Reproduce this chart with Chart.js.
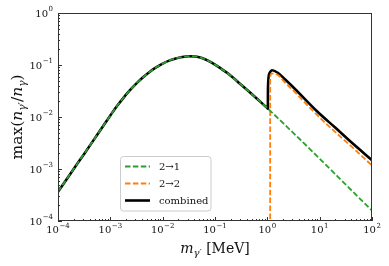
<!DOCTYPE html>
<html>
<head>
<meta charset="utf-8">
<script src="https://cdn.jsdelivr.net/npm/chart.js@4.4.0/dist/chart.umd.min.js"></script>
<style>
body { margin: 0; background: #fff; }
#wrap { width: 389px; height: 266px; }
</style>
</head>
<body>
<div id="wrap"><canvas id="myChart"></canvas></div>
<script>
// masses in MeV
var greenMass = [1e-4, 1.78e-4, 3.16e-4, 5.62e-4, 1e-3, 1.33e-3, 1.78e-3, 2.37e-3, 3.16e-3, 4.22e-3, 5.62e-3,
    7.5e-3, 1e-2, 1.33e-2, 1.78e-2, 2.37e-2, 3.16e-2, 4.22e-2, 5.62e-2, 7.5e-2, 0.1, 0.133, 0.178,
    0.316, 0.562, 1, 3.16, 10, 31.6, 100];
var greenVals = [3.63e-4, 8.51e-4, 1.95e-3, 4.57e-3, 1.07e-2, 1.61e-2, 2.34e-2, 3.27e-2, 4.43e-2, 5.80e-2, 7.35e-2,
    8.97e-2, 0.1062, 0.1213, 0.1340, 0.1429, 0.1472, 0.1459, 0.1361, 0.1202, 0.1017, 0.0841, 0.0684,
    0.0417, 0.0251, 0.0148, 0.0049, 0.00158, 5.0e-4, 1.58e-4];

var orangeMass = [1.13, 1.135, 1.2, 1.35, 1.66, 2.09, 3.16, 9.1, 20, 39.8, 100];
var orangeVals = [1e-7, 0.056, 0.068, 0.069, 0.062, 0.048, 0.032, 0.0107, 0.0051, 0.00275, 0.00117];

var combMass = greenMass.slice(0, 26).concat([1.023, 1.028, 1.09, 1.23, 1.58, 2.09, 3.16, 9.1, 20, 39.8, 100]);
var combVals = greenVals.slice(0, 26).concat([0.0145, 0.036, 0.068, 0.079, 0.071, 0.055, 0.037, 0.0126,
    0.0062, 0.0033, 0.00148]);

var seriesLabels = ['2\u21921', '2\u21922', 'combined'];
var xTickExps = [-4, -3, -2, -1, 0, 1, 2];
var yTickExps = [-4, -3, -2, -1, 0];

var FONT = '"DejaVu Serif", serif';

function pts(xs, ys) {
    return xs.map(function (x, i) { return { x: x, y: ys[i] }; });
}

function drawPow(ctx, e, x, y, align) {
    var base = '10';
    var sup = (e < 0 ? '\u2212' : '') + Math.abs(e);
    ctx.font = '10px ' + FONT;
    var wb = ctx.measureText(base).width;
    ctx.font = '7px ' + FONT;
    var ws = ctx.measureText(sup).width;
    var w = wb + ws + 0.5;
    var x0 = align === 'right' ? x - w : x - w / 2;
    ctx.font = '10px ' + FONT;
    ctx.fillText(base, x0, y);
    ctx.font = '7px ' + FONT;
    ctx.fillText(sup, x0 + wb + 0.5, y - 5.5);
}

function drawParts(ctx, parts, cx, y) {
    var total = 0;
    parts.forEach(function (p) {
        ctx.font = p[0] + FONT;
        total += ctx.measureText(p[1]).width;
    });
    var x = cx - total / 2;
    ctx.fillStyle = '#111';
    parts.forEach(function (p) {
        ctx.font = p[0] + FONT;
        ctx.fillText(p[1], x, y + p[2]);
        x += ctx.measureText(p[1]).width;
    });
}

var decor = {
    id: 'decor',
    afterDraw: function (chart) {
        var ctx = chart.ctx, a = chart.chartArea;
        var xs = chart.scales.x, ys = chart.scales.y;
        ctx.save();
        ctx.textAlign = 'left';
        ctx.textBaseline = 'alphabetic';

        // frame
        ctx.strokeStyle = '#333';
        ctx.lineWidth = 1;
        ctx.strokeRect(a.left + 0.5, a.top + 0.5, a.right - a.left - 1, a.bottom - a.top - 1);

        // inward ticks, left and bottom only
        ctx.beginPath();
        xTickExps.forEach(function (e, i) {
            var p = Math.round(xs.getPixelForValue(Math.pow(10, e))) + 0.5;
            ctx.moveTo(p, a.bottom); ctx.lineTo(p, a.bottom - 4);
            if (i < xTickExps.length - 1) {
                for (var m = 2; m < 10; m++) {
                    var q = Math.round(xs.getPixelForValue(m * Math.pow(10, e))) + 0.5;
                    ctx.moveTo(q, a.bottom); ctx.lineTo(q, a.bottom - 2);
                }
            }
        });
        yTickExps.forEach(function (e, i) {
            var p = Math.round(ys.getPixelForValue(Math.pow(10, e))) + 0.5;
            ctx.moveTo(a.left, p); ctx.lineTo(a.left + 4, p);
            if (i < yTickExps.length - 1) {
                for (var m = 2; m < 10; m++) {
                    var q = Math.round(ys.getPixelForValue(m * Math.pow(10, e))) + 0.5;
                    ctx.moveTo(a.left, q); ctx.lineTo(a.left + 2, q);
                }
            }
        });
        ctx.stroke();

        // tick labels
        ctx.fillStyle = '#111';
        xTickExps.forEach(function (e) {
            drawPow(ctx, e, xs.getPixelForValue(Math.pow(10, e)), 233, 'center');
        });
        yTickExps.forEach(function (e) {
            drawPow(ctx, e, a.left - 5, ys.getPixelForValue(Math.pow(10, e)) + 3.5, 'right');
        });

        // axis titles
        var cx = (a.left + a.right) / 2;
        drawParts(ctx, [['italic 14px ', 'm', 0], ['italic 10px ', '\u03b3\u2032', 3], ['14px ', ' [MeV]', 0]], cx, 253);

        ctx.save();
        ctx.translate(22, (a.top + a.bottom) / 2);
        ctx.rotate(-Math.PI / 2);
        drawParts(ctx, [['15.5px ', 'max(', 0], ['italic 15.5px ', 'n', 0], ['italic 10.5px ', '\u03b3\u2032', 3.5],
            ['15.5px ', '/', 0], ['italic 15.5px ', 'n', 0], ['italic 10.5px ', '\u03b3', 3.5], ['15.5px ', ')', 0]], 0, 0);
        ctx.restore();

        // legend
        ctx.beginPath();
        ctx.roundRect(120.5, 156.5, 90.5, 54.5, 3);
        ctx.fillStyle = 'rgba(255,255,255,0.8)';
        ctx.fill();
        ctx.strokeStyle = '#cccccc';
        ctx.lineWidth = 1;
        ctx.stroke();
        var rows = [166.5, 183.5, 200.5];
        chart.data.datasets.forEach(function (ds, i) {
            ctx.beginPath();
            ctx.setLineDash(ds.borderDash || []);
            ctx.strokeStyle = ds.borderColor;
            ctx.lineWidth = ds.borderWidth;
            ctx.moveTo(125, rows[i]);
            ctx.lineTo(150, rows[i]);
            ctx.stroke();
            ctx.setLineDash([]);
            ctx.fillStyle = '#111';
            ctx.font = '10px ' + FONT;
            ctx.fillText(ds.label, 159, rows[i] + 3.5);
        });
        ctx.restore();
    }
};

var ctx = document.getElementById('myChart').getContext('2d');
var myChart = new Chart(ctx, {
    type: 'line',
    data: {
        datasets: [{
            label: seriesLabels[0],
            data: pts(greenMass, greenVals),
            borderColor: '#2ca02c',
            borderWidth: 1.8,
            borderDash: [5.5, 2.4]
        }, {
            label: seriesLabels[1],
            data: pts(orangeMass, orangeVals),
            borderColor: '#ff7f0e',
            borderWidth: 1.8,
            borderDash: [5.5, 2.4]
        }, {
            label: seriesLabels[2],
            data: pts(combMass, combVals),
            borderColor: '#000000',
            borderWidth: 2.6
        }]
    },
    options: {
        responsive: true,
        maintainAspectRatio: false,
        animation: false,
        layout: { padding: { left: 58, right: 17, top: 13, bottom: 45 } },
        elements: {
            point: { radius: 0 },
            line: { cubicInterpolationMode: 'monotone', fill: false }
        },
        plugins: {
            legend: { display: false },
            tooltip: { enabled: false }
        },
        scales: {
            x: {
                type: 'logarithmic',
                min: 1e-4, max: 1e2,
                ticks: { display: false },
                grid: { display: false, drawTicks: false },
                border: { display: false }
            },
            y: {
                type: 'logarithmic',
                min: 1e-4, max: 1,
                ticks: { display: false },
                grid: { display: false, drawTicks: false },
                border: { display: false }
            }
        }
    },
    plugins: [decor]
});
</script>
</body>
</html>
